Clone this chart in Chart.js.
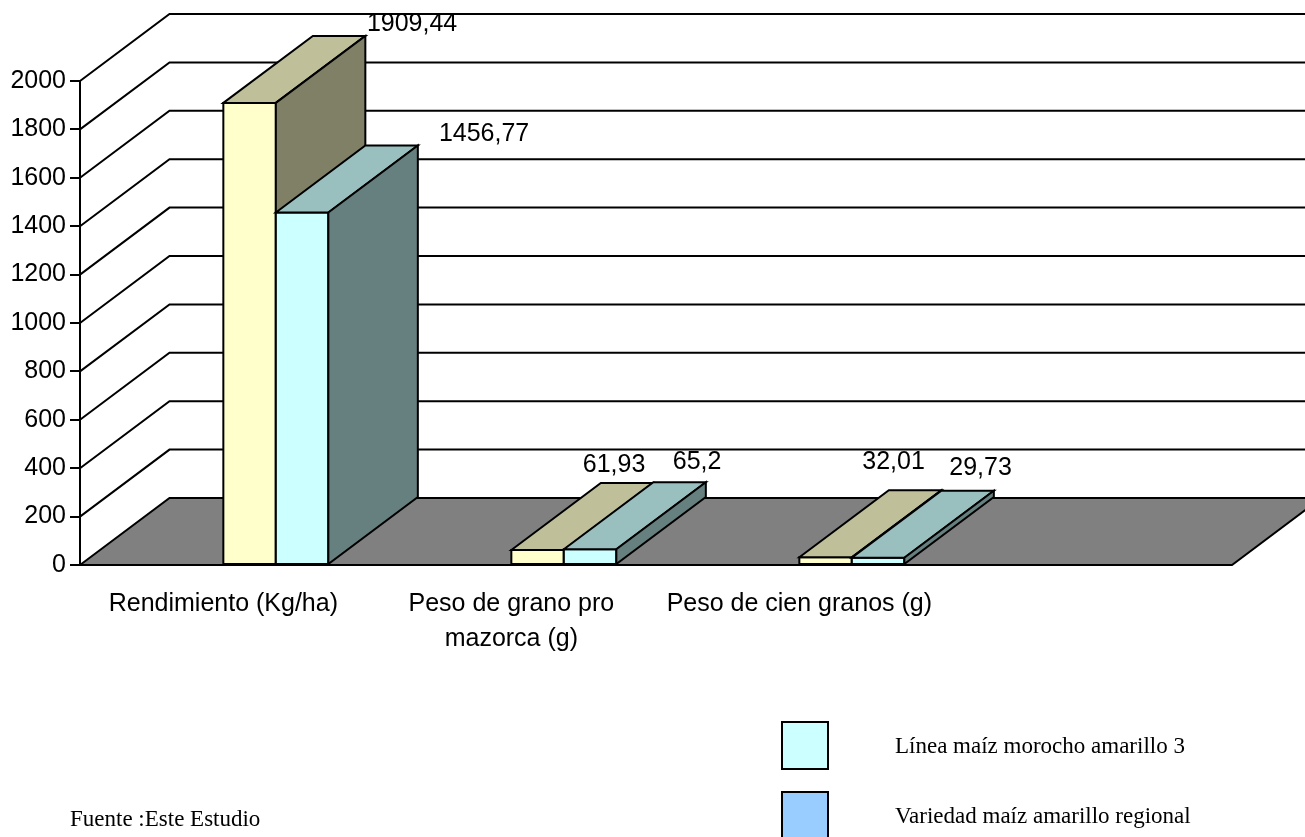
<!DOCTYPE html>
<html>
<head>
<meta charset="utf-8">
<script src="https://cdn.jsdelivr.net/npm/chart.js@4.4.1/dist/chart.umd.min.js"></script>
<style>
  html, body { margin: 0; padding: 0; background: #ffffff; overflow: hidden; }
  #wrap { position: relative; width: 1305px; height: 837px; }
</style>
</head>
<body>
<div id="wrap"><canvas id="chart" width="1305" height="837"></canvas></div>
<script>
// Categories and measured values for both maize lines
const categories = ['Rendimiento (Kg/ha)', ['Peso de grano pro', 'mazorca (g)'], 'Peso de cien granos (g)'];
const seriesNames = ['Línea maíz morocho amarillo 3', 'Variedad maíz amarillo regional'];
const lineaValues = [1909.44, 61.93, 32.01];
const variedadValues = [1456.77, 65.2, 29.73];
const yMin = 0, yMax = 2000, yStep = 200;
const sourceNote = 'Fuente :Este Estudio';

const seriesValues = [lineaValues, variedadValues];

// 3D look: depth offset of walls and columns
const DEPTH_X = 89.5, DEPTH_Y = -67;
const SANS = '"Liberation Sans", Arial, sans-serif';
const SERIF = '"Liberation Serif", "Times New Roman", serif';
const barFaces = [
  { front: '#FFFFCC', top: '#BFBF99', side: '#808066' },
  { front: '#CCFFFF', top: '#99BFBF', side: '#668080' }
];
const legendSwatches = ['#CCFFFF', '#99CCFF'];
// label placement relative to the back of each column top
const labelNudge = [
  [[73, -12], [-13, -17.5], [-21.5, -28]],
  [[92.5, -11.5], [17.5, -20], [13, -23]]
];

function fmt(v) { return String(v).replace('.', ','); }

const box3d = {
  id: 'box3d',
  beforeDatasetsDraw(chart) {
    const { ctx, chartArea: a, scales: { y } } = chart;
    ctx.save();
    ctx.lineWidth = 2;
    ctx.strokeStyle = '#000';
    ctx.lineJoin = 'miter';
    // floor
    const y0 = y.getPixelForValue(yMin);
    ctx.beginPath();
    ctx.moveTo(a.left, y0);
    ctx.lineTo(a.left + DEPTH_X, y0 + DEPTH_Y);
    ctx.lineTo(a.right + DEPTH_X, y0 + DEPTH_Y);
    ctx.lineTo(a.right, y0);
    ctx.closePath();
    ctx.fillStyle = '#808080';
    ctx.fill();
    ctx.stroke();
    // side wall and back wall grid lines
    y.ticks.forEach(t => {
      if (t.value === yMin) return;
      const py = y.getPixelForValue(t.value);
      ctx.beginPath();
      ctx.moveTo(a.left, py);
      ctx.lineTo(a.left + DEPTH_X, py + DEPTH_Y);
      ctx.lineTo(chart.width + 5, py + DEPTH_Y);
      ctx.stroke();
    });
    ctx.restore();
  },
  afterDatasetsDraw(chart) {
    const { ctx } = chart;
    const metas = chart.getSortedVisibleDatasetMetas().slice().sort((p, q) => p.index - q.index);
    ctx.save();
    ctx.lineWidth = 2;
    ctx.strokeStyle = '#000';
    ctx.lineJoin = 'miter';
    const poly = (pts, fill) => {
      ctx.beginPath();
      ctx.moveTo(pts[0][0], pts[0][1]);
      for (let k = 1; k < pts.length; k++) ctx.lineTo(pts[k][0], pts[k][1]);
      ctx.closePath();
      ctx.fillStyle = fill;
      ctx.fill();
      ctx.stroke();
    };
    categories.forEach((_, i) => {
      metas.forEach(meta => {
        const el = meta.data[i];
        if (!el) return;
        const p = el.getProps(['x', 'y', 'base', 'width'], true);
        const f = barFaces[meta.index];
        const L = p.x - p.width / 2, R = p.x + p.width / 2, T = p.y, B = p.base;
        poly([[L, T], [R, T], [R, B], [L, B]], f.front);
        poly([[L, T], [L + DEPTH_X, T + DEPTH_Y], [R + DEPTH_X, T + DEPTH_Y], [R, T]], f.top);
        poly([[R, T], [R + DEPTH_X, T + DEPTH_Y], [R + DEPTH_X, B + DEPTH_Y], [R, B]], f.side);
      });
    });
    // value labels
    ctx.fillStyle = '#000';
    ctx.font = '25px ' + SANS;
    ctx.textAlign = 'center';
    ctx.textBaseline = 'middle';
    metas.forEach(meta => {
      meta.data.forEach((el, i) => {
        const p = el.getProps(['x', 'y'], true);
        const n = labelNudge[meta.index][i];
        ctx.fillText(fmt(seriesValues[meta.index][i]), p.x + DEPTH_X + n[0], p.y + DEPTH_Y + n[1]);
      });
    });
    ctx.restore();
  },
  afterDraw(chart) {
    const { ctx } = chart;
    ctx.save();
    // legend
    ctx.lineWidth = 2;
    ctx.strokeStyle = '#000';
    ctx.font = '23px ' + SERIF;
    ctx.textAlign = 'left';
    ctx.textBaseline = 'middle';
    seriesNames.forEach((name, k) => {
      const top = 722 + k * 70;
      ctx.fillStyle = legendSwatches[k];
      ctx.fillRect(782, top, 46, 47);
      ctx.strokeRect(782, top, 46, 47);
      ctx.fillStyle = '#000';
      ctx.fillText(name, 895, top + 25);
    });
    // source note
    ctx.fillText(sourceNote, 70, 820);
    ctx.restore();
  }
};

new Chart(document.getElementById('chart'), {
  type: 'bar',
  data: {
    datasets: seriesValues.map((vals, s) => ({
      label: seriesNames[s],
      data: vals.map((v, i) => ({ x: i, y: v })),
      backgroundColor: barFaces[s].front,
      borderWidth: 0,
      barThickness: 52.5
    }))
  },
  options: {
    responsive: false,
    animation: false,
    devicePixelRatio: 1,
    layout: { padding: { top: 81, right: 73, left: 0, bottom: 0 } },
    plugins: { legend: { display: false }, tooltip: { enabled: false } },
    scales: {
      x: {
        type: 'linear',
        min: -0.68,
        max: 3.32,
        offset: false,
        grid: { display: false },
        border: { display: false },
        afterBuildTicks: s => { s.ticks = categories.map((_, i) => ({ value: i })); },
        afterFit: s => { s.height = 272; },
        ticks: {
          autoSkip: false,
          maxRotation: 0,
          minRotation: 0,
          padding: 14,
          labelOffset: -52.5,
          color: '#000',
          font: { family: SANS, size: 25, lineHeight: 1.4 },
          callback: (v, i) => categories[i]
        }
      },
      y: {
        min: yMin,
        max: yMax,
        afterFit: s => { s.width = 80; },
        ticks: {
          stepSize: yStep,
          padding: 4,
          color: '#000',
          font: { family: SANS, size: 25 },
          callback: v => String(v)
        },
        grid: { drawOnChartArea: false, drawTicks: true, tickLength: 10, color: '#000', lineWidth: 2 },
        border: { display: true, color: '#000', width: 2 }
      }
    }
  },
  plugins: [box3d]
});
</script>
</body>
</html>
